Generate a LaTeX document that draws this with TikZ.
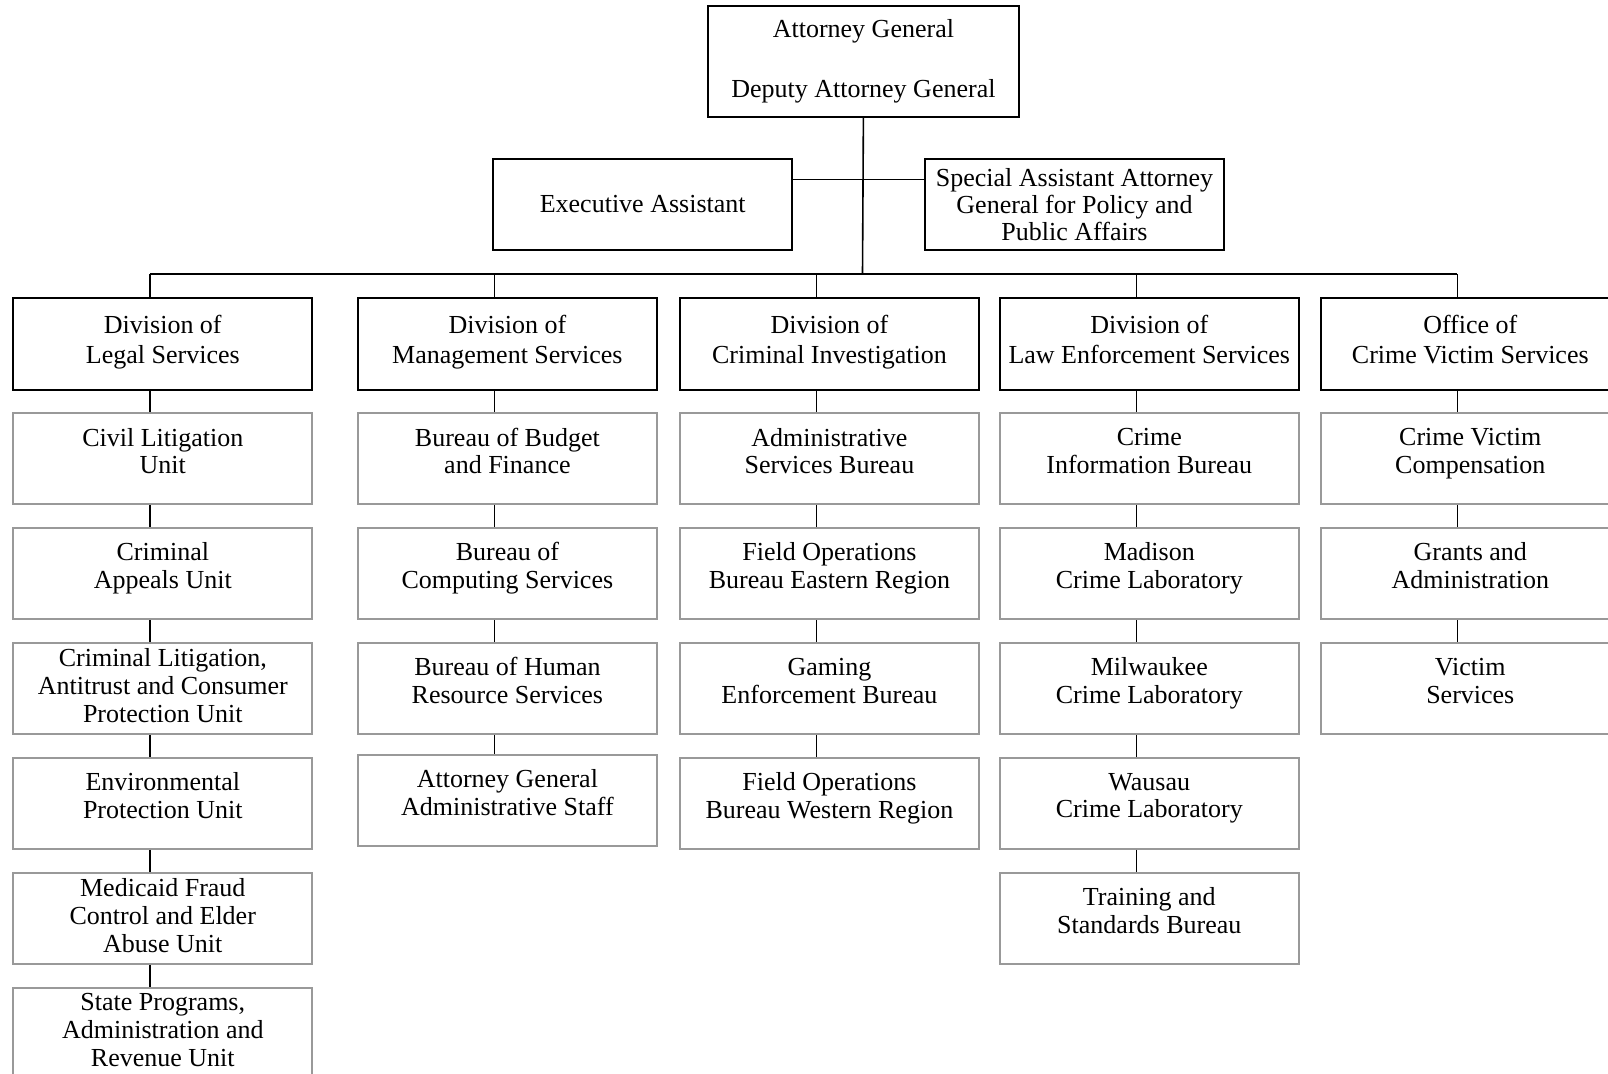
\documentclass[tikz,border=0pt]{standalone}
\usepackage{fontspec}
\setmainfont{Liberation Serif}
\usetikzlibrary{calc}

\tikzset{
  headbox/.style={draw=black, line width=1pt, minimum width=149.5pt, minimum height=45.6pt,
    anchor=north west, align=center, inner sep=1pt, font=\fontsize{13}{15}\selectfont},
  divbox/.style={headbox, text depth=5pt},
  unitbox/.style={headbox, draw=black!40, text depth=8pt, font=\fontsize{13}{13.9}\selectfont},
  longbox/.style={unitbox, text depth=3pt},
  link/.style={line width=0.8pt},
}

\begin{document}
\begin{tikzpicture}[x=0.5pt, y=-0.5pt]
  \useasboundingbox (0,0) rectangle (1608,1074);
  \clip (0,0) rectangle (1608,1074);

  % top of the chart
  \node[headbox, minimum width=155.8pt, minimum height=55.4pt] (ag) at (706.6,5.1)
    {Attorney General\\[15pt]Deputy Attorney General};
  \node[headbox] (exec) at (492.2,157.9) {Executive Assistant};
  \node[headbox, font=\fontsize{13}{13.6}\selectfont] (spec) at (924,157.9)
    {Special Assistant Attorney\\General for Policy and\\Public Affairs};

  \coordinate (asst) at (862.5,179.5);
  \coordinate (bus) at (862.5,273.8);
  \draw[link] (ag.south) -- (bus);
  \draw[link] (exec.east |- asst) -- (spec.west |- asst);

  % divisions
  \node[divbox] (dls) at (12.3,297.4) {Division of\\Legal Services};
  \node[divbox] (dms) at (356.9,297.4) {Division of\\Management Services};
  \node[divbox] (dci) at (678.9,297.4) {Division of\\Criminal Investigation};
  \node[divbox] (dle) at (998.8,297.4) {Division of\\Law Enforcement Services};
  \node[divbox] (ocv) at (1319.8,297.4) {Office of\\Crime Victim Services};

  \foreach \d in {dls,dms,dci,dle,ocv}
    \coordinate (\d-top) at ($(\d.north west)+(137.5,0)$);
  \draw[link] (dls-top |- bus) -- (ocv-top |- bus);
  \foreach \d in {dls,dms,dci,dle,ocv}
    \draw[link] (\d-top |- bus) -- (\d-top);

  % legal services
  \node[unitbox] (l1) at (12.3,412.3) {Civil Litigation\\Unit};
  \node[unitbox] (l2) at (12.3,527.1) {Criminal\\Appeals Unit};
  \node[longbox] (l3) at (12.3,642) {Criminal Litigation,\\Antitrust and Consumer\\Protection Unit};
  \node[unitbox] (l4) at (12.3,756.8) {Environmental\\Protection Unit};
  \node[longbox] (l5) at (12.3,871.7) {Medicaid Fraud\\Control and Elder\\Abuse Unit};
  \node[longbox] (l6) at (12.3,986.5) {State Programs,\\Administration and\\Revenue Unit};

  % management services
  \node[unitbox] (m1) at (356.9,412.3) {Bureau of Budget\\and Finance};
  \node[unitbox] (m2) at (356.9,527.1) {Bureau of\\Computing Services};
  \node[unitbox] (m3) at (356.9,642) {Bureau of Human\\Resource Services};
  \node[unitbox] (m4) at (356.9,753.8) {Attorney General\\Administrative Staff};

  % criminal investigation
  \node[unitbox] (c1) at (678.9,412.3) {Administrative\\Services Bureau};
  \node[unitbox] (c2) at (678.9,527.1) {Field Operations\\Bureau Eastern Region};
  \node[unitbox] (c3) at (678.9,642) {Gaming\\Enforcement Bureau};
  \node[unitbox] (c4) at (678.9,756.8) {Field Operations\\Bureau Western Region};

  % law enforcement services
  \node[unitbox] (e1) at (998.8,412.3) {Crime\\Information Bureau};
  \node[unitbox] (e2) at (998.8,527.1) {Madison\\Crime Laboratory};
  \node[unitbox] (e3) at (998.8,642) {Milwaukee\\Crime Laboratory};
  \node[unitbox] (e4) at (998.8,756.8) {Wausau\\Crime Laboratory};
  \node[unitbox] (e5) at (998.8,871.7) {Training and\\Standards Bureau};

  % crime victim services
  \node[unitbox] (v1) at (1319.8,412.3) {Crime Victim\\Compensation};
  \node[unitbox] (v2) at (1319.8,527.1) {Grants and\\Administration};
  \node[unitbox] (v3) at (1319.8,642) {Victim\\Services};

  \foreach \a/\b in {dls/l1,l1/l2,l2/l3,l3/l4,l4/l5,l5/l6,
                     dms/m1,m1/m2,m2/m3,m3/m4,
                     dci/c1,c1/c2,c2/c3,c3/c4,
                     dle/e1,e1/e2,e2/e3,e3/e4,e4/e5,
                     ocv/v1,v1/v2,v2/v3}
    \draw[link] ($(\a.south west)+(137.5,0)$) -- ($(\b.north west)+(137.5,0)$);
\end{tikzpicture}
\end{document}
